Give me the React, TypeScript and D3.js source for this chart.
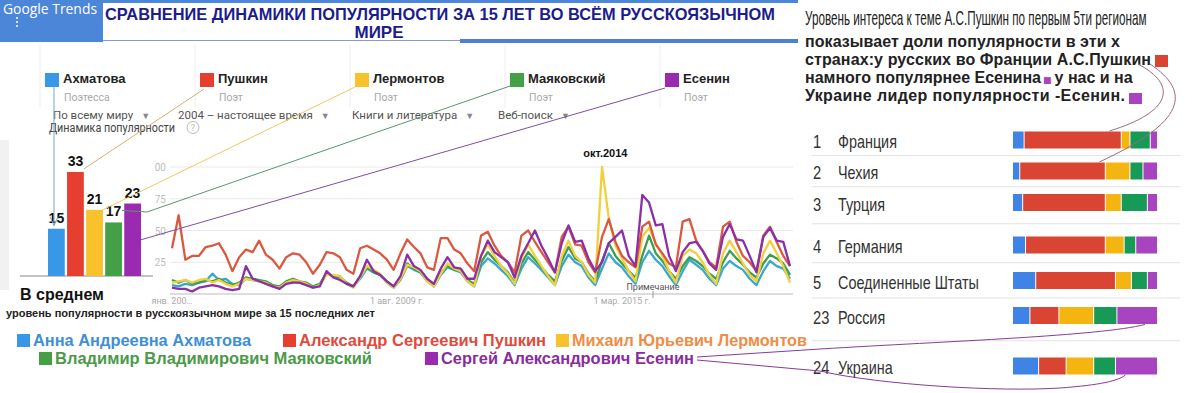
import React from "react";
import * as d3 from "d3";

// ---- data ----
const poets = ["Ахматова", "Пушкин", "Лермонтов", "Маяковский", "Есенин"];
const poetRoles = ["Поэтесса", "Поэт", "Поэт", "Поэт", "Поэт"];
const poetFullNames = [
  "Анна Андреевна Ахматова",
  "Александр Сергеевич Пушкин",
  "Михаил Юрьевич Лермонтов",
  "Владимир Владимирович Маяковский",
  "Сергей Александрович Есенин",
];
const averageInterest = [15, 33, 21, 17, 23];
const filterLabels = ["По всему миру", "2004 – настоящее время", "Книги и литература", "Веб-поиск"];

// interest over time, every second month from Jan 2004 to May 2019
const akhmatova = [
  7, 6, 8, 7, 9, 10, 16, 11, 12, 8,
  7, 12, 11, 10, 9, 6, 5, 9, 10, 9,
  8, 5, 7, 17, 14, 14, 8, 6, 12, 20,
  17, 15, 9, 5, 11, 22, 19, 17, 10, 6,
  15, 21, 19, 17, 10, 6,
  22, 28, 24, 19, 14, 7, 20, 29, 24, 19,
  13, 7, 22, 31, 25, 22, 13, 7, 20, 32,
  25, 21, 14, 8, 25, 34, 27, 22, 14, 7,
  18, 27, 23, 19, 12, 7, 20, 26, 22, 19,
  12, 7, 18, 26, 22, 20, 12,
];
const pushkin = [
  36, 62, 27, 30, 30, 37, 38, 40, 31, 18,
  29, 35, 33, 42, 31, 27, 20, 29, 32, 31,
  25, 16, 23, 33, 32, 29, 19, 16, 36, 38,
  35, 32, 27, 19, 32, 43, 37, 32, 21, 19,
  44, 44, 35, 32, 24, 18,
  46, 49, 38, 30, 25, 17, 46, 50, 41, 33,
  25, 17, 45, 53, 39, 38, 25, 17, 45, 59,
  41, 30, 25, 21, 53, 57, 39, 32, 24, 21,
  57, 59, 42, 34, 25, 21, 53, 57, 41, 30,
  25, 18, 46, 53, 41, 30, 22,
];
const lermontov = [
  9, 10, 11, 9, 11, 12, 9, 11, 8, 6,
  8, 12, 11, 10, 9, 6, 5, 9, 11, 10,
  8, 5, 7, 15, 15, 14, 8, 5, 13, 22,
  19, 16, 9, 5, 12, 23, 21, 18, 10, 6,
  16, 24, 20, 18, 10, 6,
  30, 39, 30, 22, 16, 8, 28, 39, 30, 22,
  14, 7, 30, 42, 30, 25, 15, 9, 100, 60,
  38, 28, 18, 10, 45, 52, 40, 30, 18, 9,
  30, 35, 32, 25, 15, 8, 32, 42, 33, 24,
  15, 10, 32, 42, 32, 22, 9,
];
const mayakovsky = [
  11, 9, 11, 8, 9, 11, 10, 12, 9, 7,
  9, 13, 12, 11, 10, 7, 6, 10, 12, 10,
  9, 6, 8, 16, 14, 13, 9, 6, 14, 21,
  17, 15, 10, 6, 12, 24, 20, 17, 11, 7,
  17, 22, 19, 18, 11, 8,
  25, 33, 27, 22, 17, 9, 24, 33, 27, 21,
  15, 10, 26, 37, 28, 25, 16, 10, 26, 40,
  30, 24, 18, 13, 30, 46, 32, 26, 18, 12,
  22, 29, 26, 22, 16, 12, 25, 34, 28, 23,
  17, 13, 24, 31, 28, 24, 15,
];
const esenin = [
  5, 4, 4, 2, 5, 6, 7, 6, 4, 3,
  4, 22, 12, 10, 8, 6, 4, 8, 9, 9,
  7, 5, 6, 18, 13, 11, 8, 6, 14, 27,
  18, 15, 10, 6, 14, 31, 22, 19, 12, 8,
  20, 29, 21, 20, 12, 12,
  30, 42, 33, 29, 25, 13, 30, 40, 50, 38,
  28, 17, 40, 54, 41, 42, 28, 18, 25, 40,
  45, 50, 30, 22, 78, 72, 54, 55, 30, 18,
  33, 40, 41, 34, 24, 19, 45, 55, 43, 42,
  30, 17, 45, 52, 42, 41, 22,
];

const yTickValues = [25, 50, 75, 100];
const yTickLabels = ["25", "50", "75", "00"];
const xTickDates = [new Date(2004, 0, 1), new Date(2009, 7, 1), new Date(2015, 2, 1)];
const xTickLabels = ["янв. 200…", "1 авг. 2009 г.", "1 мар. 2015 г."];

// regional breakdown (share of interest, %)
const regionRanks = [1, 2, 3, 4, 5, 23, 24];
const regionNames = ["Франция", "Чехия", "Турция", "Германия", "Соединенные Штаты", "Россия", "Украина"];
const akhmatovaShare = [8, 5, 7, 9, 16, 12, 18];
const pushkinShare = [67, 59, 57, 55, 55, 20, 19];
const lermontovShare = [6, 17, 11, 13, 11, 24, 19];
const mayakovskyShare = [14, 9, 18, 8, 11, 16, 15];
const eseninShare = [5, 10, 7, 15, 7, 28, 29];

const paragraphLines = [
  "показывает доли популярности в эти х",
  "странах:у русских во Франции А.С.Пушкин",
  "намного популярнее Есенина",
  "Украине лидер популярности -Есенин.",
];
const paragraphTail = "у нас и на";

// ---- styles ----
const SANS = "'Liberation Sans', Arial, sans-serif";
const UI = "Roboto, 'Liberation Sans', Arial, sans-serif";
const squareColors = ["#3897e6", "#e63f2f", "#f8c22c", "#43a047", "#9a2bb0"];
const lineColors = ["#3aa7cf", "#db5840", "#f0d03c", "#3d9d50", "#8b2fa8"];
const regionColors = ["#3f83e6", "#da4433", "#f5b510", "#169a56", "#a844bf"];
const legendTextColors = ["#3e8fd8", "#df4a3c", "#ef8c46", "#4c9a48", "#8a2c9e"];
const connectorColors = ["#7aa5c0", "#d8b070", "#f0c860", "#5e9470", "#7f4fa0"];

// layout
const bigLegendPos = [[17, 334], [283, 334], [556, 334], [39, 352], [425, 352]];
const bigLegendWidth = [218, 247, 235, 317, 253];
const filterX = [53, 178, 352, 498];
const paragraphWidth = [315, 346, 0, 320];

export default function App() {
  const dates = d3.timeMonth.every(2)!.range(new Date(2004, 0, 1), new Date(2019, 6, 1));
  const series = [akhmatova, pushkin, lermontov, mayakovsky, esenin];
  const shares = [akhmatovaShare, pushkinShare, lermontovShare, mayakovskyShare, eseninShare];

  // time series
  const x = d3.scaleTime().domain([dates[0], dates[dates.length - 1]]).range([172, 790]);
  const y = d3.scaleLinear().domain([0, 100]).range([294, 167]);
  const line = d3.line<number>().x((_, i) => x(dates[i])).y((d) => y(d));

  // google trends header legend
  const legendX = d3.scaleBand<string>().domain(poets).range([40, 815]);
  const sq = (p: string) => (legendX(p) as number) + 5;

  // average bars
  const barX = d3.scaleBand<string>().domain(poets).range([48, 141]).paddingInner(0.12);
  const barY = d3.scaleLinear().domain([0, 33]).range([276, 172]);
  const bw = barX.bandwidth();
  const bRight = (p: string) => (barX(p) as number) + bw;

  // regions
  const rowY = d3.scaleLinear().domain([0, 1, 2, 3, 4, 5, 6]).range([140, 171, 202.5, 245, 280.5, 315.5, 366]);
  const shareX = d3.scaleLinear().domain([0, 100]).range([1013, 1158]);
  const stackRows = regionNames.map((name, r) => {
    const o: any = { name };
    poets.forEach((p, k) => (o[p] = shares[k][r]));
    return o;
  });
  const stacked = d3.stack<any>().keys(poets)(stackRows);
  const barH = 17;

  const drawOrder = [0, 3, 2, 1, 4];

  // connector end points on the right
  const ruPurple = stacked[4][5];
  const uaPurple = stacked[4][6];
  const frRed = stacked[1][0];
  const czRed = stacked[1][1];

  return (
    <div style={{ position: "absolute", left: 0, top: 0 }}>
      <svg width={1200} height={393} style={{ display: "block", background: "#fff" }}>
        {/* header */}
        <rect x={0} y={0} width={103} height={42} fill="#4b86d8" />
        <rect x={103} y={0} width={695} height={3} fill="#4b86d8" />
        <rect x={460} y={39} width={338} height={4} fill="#4b80d4" />
        <line x1={103} x2={460} y1={40.5} y2={40.5} stroke="#8a9cc0" />
        <text x={3} y={14} fill="#fff" fontFamily="'Open Sans', sans-serif" fontSize={14} textLength={94} lengthAdjust="spacingAndGlyphs">
          Google Trends
        </text>
        {[18, 22, 26].map((cy) => (
          <circle key={cy} cx={17} cy={cy} r={1} fill="#fff" />
        ))}
        <text x={105} y={20} fill="#1c1c8a" fontFamily={SANS} fontWeight="bold" fontSize={17} textLength={670} lengthAdjust="spacingAndGlyphs">
          СРАВНЕНИЕ ДИНАМИКИ ПОПУЛЯРНОСТИ ЗА 15 ЛЕТ ВО ВСЁМ РУССКОЯЗЫЧНОМ
        </text>
        <text x={379} y={38} fill="#1c1c8a" fontFamily={SANS} fontWeight="bold" fontSize={17} textAnchor="middle">
          МИРЕ
        </text>

        {/* trends legend */}
        {poets.map((p, i) => (
          <g key={p}>
            {i > 0 && <line x1={legendX(p)} x2={legendX(p)} y1={45} y2={108} stroke="#eee" />}
            <rect x={sq(p)} y={73} width={14} height={14} fill={squareColors[i]} />
            <text x={sq(p) + 18} y={83} fontFamily={SANS} fontWeight="bold" fontSize={13} fill="#222">
              {p}
            </text>
            <text x={sq(p) + 19} y={101} fontFamily={UI} fontSize={10.5} fill="#a8a8a8">
              {poetRoles[i]}
            </text>
          </g>
        ))}
        <line x1={40} x2={40} y1={45} y2={108} stroke="#eee" />
        {filterLabels.map((f, i) => (
          <text key={f} x={filterX[i]} y={119} fontFamily={UI} fontSize={11.5} fill="#555">
            {f}
            <tspan dx={8} fill="#888" fontSize={9}>▼</tspan>
          </text>
        ))}
        <text x={49} y={132} fontFamily={UI} fontSize={12} fill="#444" textLength={126} lengthAdjust="spacingAndGlyphs">
          Динамика популярности
        </text>
        <circle cx={193} cy={127.5} r={6} fill="none" stroke="#bbb" />
        <text x={193} y={131} textAnchor="middle" fontFamily={UI} fontSize={9} fill="#bbb">?</text>

        {/* left gray strip */}
        <rect x={0} y={140} width={9} height={150} fill="#f1f1f1" />

        {/* line chart grid */}
        {yTickValues.map((v, i) => (
          <g key={v}>
            <line x1={170} x2={793} y1={y(v)} y2={y(v)} stroke="#e9e9e9" />
            <text x={166} y={y(v) + 4} textAnchor="end" fontFamily={UI} fontSize={10} fill="#bdbdbd">
              {yTickLabels[i]}
            </text>
          </g>
        ))}
        <line x1={170} x2={793} y1={y(0)} y2={y(0)} stroke="#bbb" />
        {xTickDates.map((d, i) => (
          <text key={i} x={x(d)} y={304} textAnchor="middle" fontFamily={UI} fontSize={9} fill="#aaa">
            {xTickLabels[i]}
          </text>
        ))}

        {/* lines */}
        {drawOrder.map((k) => (
          <path key={k} d={line(series[k]) || ""} fill="none" stroke={lineColors[k]} strokeWidth={2.3} strokeLinejoin="round" />
        ))}
        <text x={x(new Date(2014, 9, 1))} y={157} textAnchor="middle" fontFamily={SANS} fontWeight="bold" fontSize={11} fill="#111">
          окт.2014
        </text>
        <text x={653} y={290} textAnchor="middle" fontFamily={UI} fontSize={9} fill="#555">Примечание</text>
        <line x1={653} x2={653} y1={291} y2={298} stroke="#999" />

        {/* average bars */}
        <line x1={20} x2={153} y1={barY(0)} y2={barY(0)} stroke="#888" />
        {poets.map((p, i) => (
          <g key={p}>
            <rect x={barX(p)} y={barY(averageInterest[i])} width={bw} height={barY(0) - barY(averageInterest[i])} fill={squareColors[i]} />
            <text x={(barX(p) as number) + bw / 2} y={barY(averageInterest[i]) - 6} textAnchor="middle" fontFamily={SANS} fontWeight="bold" fontSize={14} fill="#111">
              {averageInterest[i]}
            </text>
          </g>
        ))}

        {/* connectors from header legend to bars */}
        <line x1={sq(poets[0]) + 9} x2={sq(poets[0]) + 9} y1={87} y2={barY(averageInterest[0]) - 3} stroke={connectorColors[0]} />
        <path
          d={`M${sq(poets[0]) + 5},${barY(averageInterest[0]) - 12} L${sq(poets[0]) + 9},${barY(averageInterest[0]) - 3} L${sq(poets[0]) + 13},${barY(averageInterest[0]) - 12}`}
          fill="none"
          stroke={connectorColors[0]}
        />
        <line x1={sq(poets[1]) + 4} y1={89} x2={bRight(poets[1])} y2={barY(averageInterest[1]) - 3} stroke={connectorColors[1]} />
        <line x1={sq(poets[2])} y1={87} x2={bRight(poets[2])} y2={barY(averageInterest[2])} stroke={connectorColors[2]} />
        <polyline
          points={`${sq(poets[3])},86 147,212 ${bRight(poets[3])},${barY(averageInterest[3]) - 12}`}
          fill="none"
          stroke={connectorColors[3]}
        />
        <line x1={sq(poets[4])} y1={88} x2={bRight(poets[4])} y2={barY(averageInterest[4] / 2)} stroke={connectorColors[4]} />

        <text x={20} y={300} fontFamily={SANS} fontWeight="bold" fontSize={16} fill="#111">В среднем</text>
        <text x={6} y={317} fontFamily={SANS} fontWeight="bold" fontSize={11} fill="#222" textLength={369} lengthAdjust="spacingAndGlyphs">
          уровень популярности в русскоязычном мире за 15 последних лет
        </text>

        {/* full name legend */}
        {poetFullNames.map((n, i) => (
          <g key={n}>
            <rect x={bigLegendPos[i][0]} y={bigLegendPos[i][1]} width={13} height={13} fill={squareColors[i]} />
            <text
              x={bigLegendPos[i][0] + 16}
              y={bigLegendPos[i][1] + 12}
              fontFamily={SANS}
              fontWeight="bold"
              fontSize={16}
              fill={legendTextColors[i]}
              textLength={bigLegendWidth[i]}
              lengthAdjust="spacingAndGlyphs"
            >
              {n}
            </text>
          </g>
        ))}

        {/* right panel */}
        <text fontFamily={SANS} fontSize={20} fill="#222" transform="translate(805,25) scale(0.585,1)">
          Уровень интереса к теме А.С.Пушкин по первым 5ти регионам
        </text>
        <line x1={790} x2={797} y1={42} y2={42} stroke="#4b80d4" strokeWidth={2} />
        {paragraphLines.map((t, i) =>
          i === 2 ? (
            <text key={i} x={805} y={47 + i * 18} fontFamily={SANS} fontWeight="bold" fontSize={16} fill="#222">
              {t}
              <tspan dx={2} fill={regionColors[4]} fontSize={9} fontFamily="'DejaVu Sans', sans-serif">■</tspan>
              <tspan dx={3}>{paragraphTail}</tspan>
            </text>
          ) : (
            <text key={i} x={805} y={47 + i * 18} fontFamily={SANS} fontWeight="bold" fontSize={16} fill="#222" textLength={paragraphWidth[i]} lengthAdjust="spacing">
              {t}
            </text>
          )
        )}
        <rect x={1155} y={55} width={13} height={12} fill={regionColors[1]} />
        <rect x={1129} y={93} width={13} height={11} fill={regionColors[4]} />

        {regionNames.map((name, r) => (
          <g key={name}>
            {r > 0 && (
              <line x1={812} x2={1180} y1={(rowY(r - 1) + rowY(r)) / 2} y2={(rowY(r - 1) + rowY(r)) / 2} stroke="#e2e2e2" />
            )}
            <text fontFamily={SANS} fontSize={18} fill="#333" transform={`translate(813,${rowY(r) + 8}) scale(0.82,1)`}>
              {regionRanks[r]}
            </text>
            <text fontFamily={SANS} fontSize={18} fill="#333" transform={`translate(838,${rowY(r) + 8}) scale(0.8,1)`}>
              {name}
            </text>
          </g>
        ))}
        {stacked.map((layer, k) =>
          layer.map((seg, r) => (
            <rect
              key={`${k}-${r}`}
              x={shareX(seg[0])}
              y={rowY(r) - barH / 2}
              width={Math.max(0, shareX(seg[1]) - shareX(seg[0]) - 1)}
              height={barH}
              fill={regionColors[k]}
            />
          ))
        )}

        {/* annotation curves */}
        <path d={`M1138,64 C1178,85 1172,112 ${shareX((frRed[0] + frRed[1]) / 2 + 25)},${rowY(0) - 9}`} fill="none" stroke="#9a6a80" />
        <path d={`M1150,64 C1192,92 1186,122 ${shareX((czRed[0] + czRed[1]) / 2 + 25)},${rowY(1) - 9}`} fill="none" stroke="#9a6a80" />
        <path
          d={`M697,357 L820,349 C950,341 1100,336 ${shareX((ruPurple[0] + ruPurple[1]) / 2 + 5)},${rowY(5) + 9}`}
          fill="none"
          stroke="#8a3a9a"
        />
        <path
          d={`M697,360 L820,371 C880,385 1000,392 1060,388 C1100,385 1118,381 ${shareX((uaPurple[0] + uaPurple[1]) / 2 - 8)},${rowY(6) + 9}`}
          fill="none"
          stroke="#8a3a9a"
        />
      </svg>
    </div>
  );
}
